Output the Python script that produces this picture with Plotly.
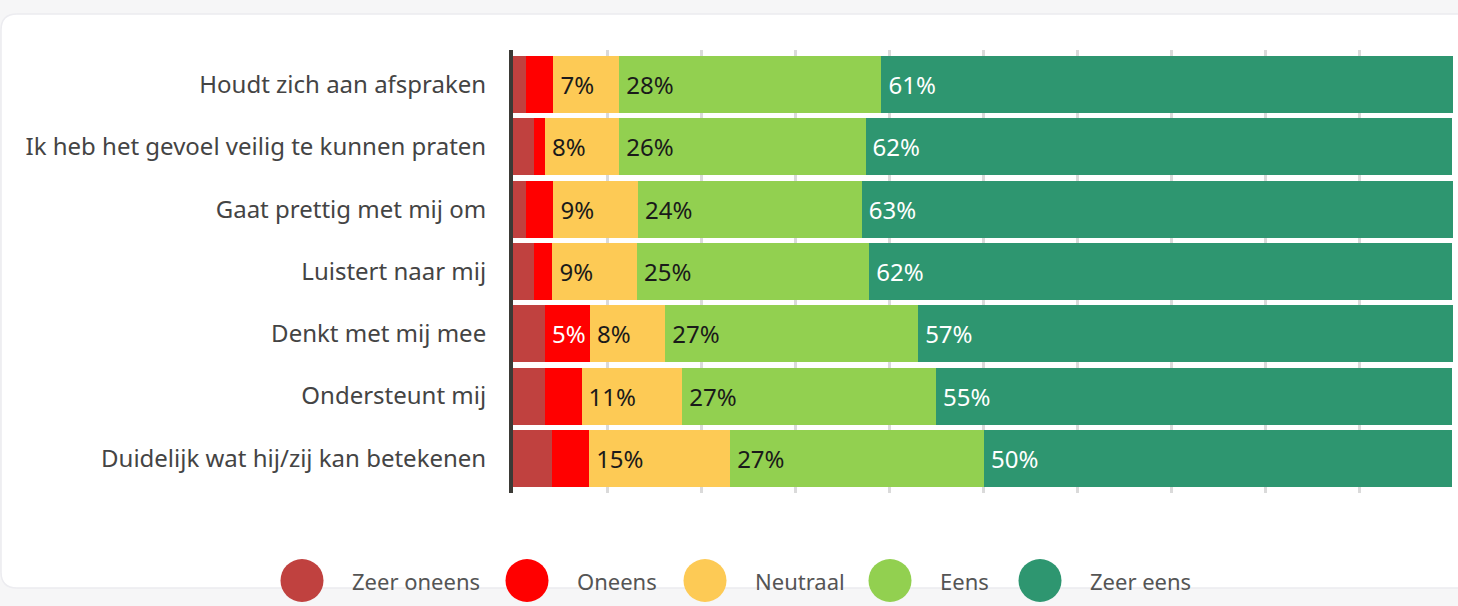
import plotly.graph_objects as go

categories = [
    "Houdt zich aan afspraken",
    "Ik heb het gevoel veilig te kunnen praten",
    "Gaat prettig met mij om",
    "Luistert naar mij",
    "Denkt met mij mee",
    "Ondersteunt mij",
    "Duidelijk wat hij/zij kan betekenen",
]
zeer_oneens = [1.4, 2.2, 1.4, 2.2, 3.4, 3.4, 4.2]
oneens = [2.9, 1.2, 2.9, 2.0, 4.8, 3.9, 3.9]
neutraal = [7.0, 7.9, 9.0, 9.0, 8.0, 10.7, 15.0]
eens = [27.9, 26.2, 23.8, 24.7, 26.9, 27.0, 27.0]
zeer_eens = [60.9, 62.4, 62.9, 62.0, 56.9, 54.9, 49.8]

series_names = ["Zeer oneens", "Oneens", "Neutraal", "Eens", "Zeer eens"]
series_values = [zeer_oneens, oneens, neutraal, eens, zeer_eens]
colors = ["#c0413f", "#ff0000", "#fdca55", "#92d050", "#2e9670"]
text_colors = ["#ffffff", "#ffffff", "#1a1a1a", "#1a1a1a", "#ffffff"]

FONT = "Noto Sans, Open Sans, sans-serif"

# pixel geometry of the plot area
W, H = 1458, 606
L, R, T, B = 513, 5, 50, 113
PW = W - L - R
PH = H - T - B


def px(X):
    return (X - L) / PW


def py(Y):
    return (H - B - Y) / PH


fig = go.Figure()
for name, vals, col, tcol in zip(series_names, series_values, colors, text_colors):
    labels = [f"\u2009{round(v)}%" if round(v) >= 5 else "" for v in vals]
    fig.add_trace(go.Bar(
        y=categories, x=vals, name=name, orientation="h",
        marker=dict(color=col, line=dict(width=0)),
        text=labels, textposition="inside", insidetextanchor="start",
        textangle=0, constraintext="none",
        textfont=dict(size=24, color=tcol, family=FONT),
        hoverinfo="skip", showlegend=False,
    ))

shapes = []
# card background with rounded corners
cx0, cx1, cy0, cy1 = px(1), px(1500), py(14), py(588)
rx, ry = 16 / PW, 16 / PH
card = (f"M {cx0+rx} {cy0} L {cx1} {cy0} L {cx1} {cy1} L {cx0+rx} {cy1} "
        f"Q {cx0} {cy1} {cx0} {cy1+ry} L {cx0} {cy0-ry} Q {cx0} {cy0} {cx0+rx} {cy0} Z")
shapes.append(dict(type="path", xref="paper", yref="paper", path=card,
                   fillcolor="#ffffff", line=dict(color="#ececf0", width=1.5),
                   layer="below"))

# custom legend with large circles
legend_centers = [302, 527, 705, 890, 1040]
annotations = []
ly = py(580.5)
for name, col, cxp in zip(series_names, colors, legend_centers):
    shapes.append(dict(type="circle", xref="paper", yref="paper",
                       xsizemode="pixel", ysizemode="pixel",
                       xanchor=px(cxp), yanchor=ly,
                       x0=-21.5, x1=21.5, y0=-21.5, y1=21.5,
                       fillcolor=col, line=dict(width=0), layer="above"))
    annotations.append(dict(xref="paper", yref="paper", x=px(cxp + 48), y=ly,
                            xanchor="left", yanchor="middle", showarrow=False,
                            text=name, font=dict(size=22, color="#555555", family=FONT)))

d = 0.056
fig.update_layout(
    width=W, height=H,
    margin=dict(l=L, r=R, t=T, b=B, pad=0),
    barmode="stack", bargap=0.085,
    paper_bgcolor="#f6f6f7", plot_bgcolor="rgba(0,0,0,0)",
    font=dict(family=FONT),
    xaxis=dict(range=[0, 100], dtick=10, showticklabels=False, showgrid=True,
               gridcolor="#dadada", gridwidth=2.5, zeroline=False, showline=False,
               fixedrange=True),
    yaxis=dict(type="category", range=[6.5 + d, -0.5 - d], showgrid=False,
               showline=True, linecolor="#3b3a36", linewidth=4, ticks="",
               ticklabelstandoff=18, zeroline=False,
               tickfont=dict(size=24, color="#444444", family=FONT),
               fixedrange=True),
    shapes=shapes, annotations=annotations,
)

post = ("document.body.style.margin='0';document.body.style.padding='0';"
        "document.body.style.background='#f6f6f7';document.body.style.overflow='hidden';")
fig.write_html("out.html", post_script=post, config={"displayModeBar": False})
